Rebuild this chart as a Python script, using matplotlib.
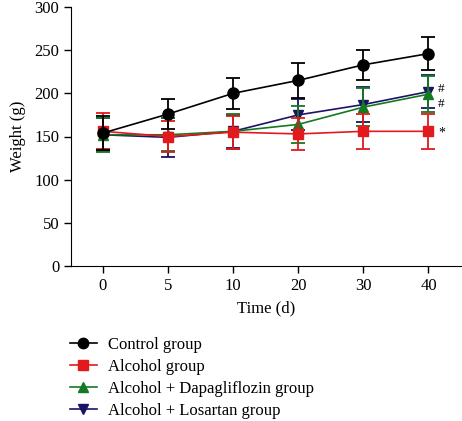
import numpy as np
import matplotlib.pyplot as plt
from matplotlib.lines import Line2D

plt.rcParams['font.family'] = ['Liberation Serif', 'DejaVu Serif']

time_labels = ['0', '5', '10', '20', '30', '40']
control = [154, 176, 200, 215, 233, 246]
control_err = [20, 17, 18, 20, 17, 19]
alcohol = [156, 150, 155, 153, 156, 156]
alcohol_err = [21, 18, 19, 19, 20, 20]
dapa = [152, 152, 156, 164, 184, 199]
dapa_err = [20, 19, 20, 21, 22, 21]
losartan = [152, 149, 156, 175, 187, 202]
losartan_err = [19, 23, 19, 18, 20, 19]

series = [
    ('Alcohol + Losartan group', losartan, losartan_err, '#1b1464', 'v'),
    ('Alcohol + Dapagliflozin group', dapa, dapa_err, '#137a22', '^'),
    ('Alcohol group', alcohol, alcohol_err, '#e2191d', 's'),
    ('Control group', control, control_err, 'black', 'o'),
]

fig = plt.figure(figsize=(4.62, 4.21), dpi=100)
ax = fig.add_axes([71/462, 1 - 266/421, 390/462, 259/421])
x = np.arange(len(time_labels))

for i, (name, y, e, c, m) in enumerate(series):
    ax.errorbar(x, y, yerr=e, color=c, marker=m, markersize=7.5 if m != 'o' else 8,
                linewidth=1.2, elinewidth=1.3, capsize=5, capthick=1.3, zorder=2 + i)

fs = 12
ax.text(x[-1] + 0.15, 205, '#', fontsize=9.5, va='center')
ax.text(x[-1] + 0.15, 188, '#', fontsize=9.5, va='center')
ax.text(x[-1] + 0.15, 154, '*', fontsize=10, va='center')

ax.set_xlim(-0.49, 5.5)
ax.set_ylim(0, 300)
ax.set_xticks(x)
ax.set_xticklabels(time_labels)
ax.set_yticks(range(0, 301, 50))
ax.spines['top'].set_visible(False)
ax.spines['right'].set_visible(False)
ax.tick_params(labelsize=fs, width=1, length=5)
ax.set_xlabel('Time (d)', fontsize=fs, labelpad=5)
ax.set_ylabel('Weight (g)', fontsize=fs, labelpad=6)

handles = [Line2D([0], [0], color=c, marker=m, markersize=7.5, linewidth=1.2)
           for name, y, e, c, m in series[::-1]]
labels = [s[0] for s in series[::-1]]
fig.legend(handles, labels, loc='upper left', bbox_to_anchor=(70/462, 1 - 337/421),
           frameon=False, fontsize=fs, handlelength=1.6, labelspacing=0.36,
           borderaxespad=0, borderpad=0, handletextpad=0.65)

fig.savefig('out.png', dpi=100)
